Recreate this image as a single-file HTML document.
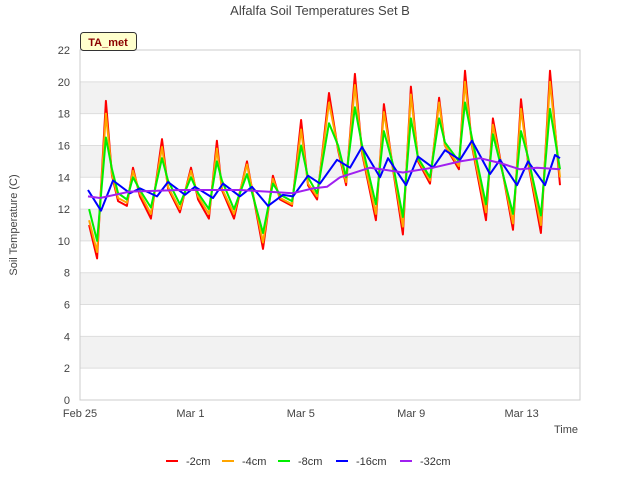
<!DOCTYPE html>
<html><head><meta charset="utf-8"><style>
body{margin:0;background:#fff;}
svg{font-family:"Liberation Sans","DejaVu Sans",sans-serif;}
</style></head><body>
<svg width="640" height="480" xmlns="http://www.w3.org/2000/svg" id="chart">
<rect width="640" height="480" fill="#fff"/>
<text x="320" y="15" text-anchor="middle" font-size="13" fill="#444">Alfalfa Soil Temperatures Set B</text>
<g id="grid"></g>
<g id="series"></g>
<g id="axes"></g>
<g>
<rect x="80.5" y="32.5" width="56" height="18" rx="3" fill="#ffffcc" stroke="#333"/>
<text x="108" y="46" text-anchor="middle" font-size="11" font-weight="bold" fill="#8b0000">TA_met</text>
</g>
<text x="17" y="225" transform="rotate(-90 17 225)" text-anchor="middle" font-size="11" fill="#444">Soil Temperature (C)</text>
<text x="566" y="433" text-anchor="middle" font-size="11" fill="#444">Time</text>
<g id="legend"></g>
</svg>
<script>
const T=[0.33,0.62,0.94,1.16,1.38,1.70,1.92,2.17,2.57,2.97,3.19,3.62,4.02,4.28,4.67,4.96,5.14,5.58,6.05,6.63,6.99,7.25,7.68,8.01,8.26,8.59,9.02,9.35,9.64,9.96,10.22,10.72,11.01,11.34,11.70,11.99,12.25,12.68,13.01,13.22,13.73,13.95,14.20,14.71,14.96,15.69,15.98,16.23,16.70,17.03,17.39];
const red=[11.0,8.9,18.8,14.1,12.5,12.2,14.6,12.8,11.4,16.4,13.3,11.8,14.6,12.6,11.4,16.3,13.2,11.4,15.0,9.5,14.1,12.6,12.2,17.6,13.5,12.6,19.3,15.7,13.5,20.5,15.5,11.3,18.6,14.5,10.4,19.7,15.0,13.6,19.0,16.0,14.5,20.7,16.0,11.3,17.7,10.7,18.9,15.0,10.5,20.7,13.5];
const orange=[11.3,9.3,18.0,14.2,12.7,12.4,14.4,13.0,11.7,15.9,13.4,12.0,14.4,12.8,11.7,15.8,13.3,11.7,14.8,9.9,13.9,12.7,12.3,17.0,13.6,12.8,18.7,15.8,13.7,19.8,15.6,11.7,18.1,14.6,10.9,19.2,15.1,13.8,18.7,16.0,14.7,20.0,16.1,11.8,17.3,11.1,18.3,15.1,11.0,20.0,14.0];
const green=[12.0,10.0,16.5,14.5,13.0,12.6,14.0,13.2,12.1,15.2,13.8,12.3,14.0,13.0,12.0,15.0,13.8,12.0,14.2,10.5,13.6,12.9,12.5,16.0,14.0,13.0,17.4,16.0,14.0,18.4,16.0,12.3,16.9,14.8,11.5,17.7,15.2,14.0,17.7,16.2,15.0,18.7,16.5,12.3,16.7,11.7,16.9,15.3,11.6,18.3,14.5];
const blueX=[88,101,113,130,140,157,168,185,195,213,223,240,252,268,283,293,308,320,337,350,362,380,388,406,418,433,445,460,472,490,500,517,528,545,555,560];
const blueT=blueX.map(x=>(x-80)/27.6);
const blue=[13.2,11.9,13.8,13.0,13.3,12.8,13.7,12.9,13.4,12.7,13.6,12.8,13.4,12.2,12.9,12.8,14.1,13.6,15.1,14.6,15.9,14.0,15.2,13.5,15.3,14.6,15.7,15.1,16.3,14.2,15.1,13.5,15.0,13.5,15.4,15.2];
const purpleX=[88,100,130,180,240,267,293,313,327,340,370,403,433,460,480,500,520,537,560];
const purpleT=purpleX.map(x=>(x-80)/27.6);
const purple=[12.8,12.7,13.1,13.2,13.2,13.1,13.0,13.3,13.4,14.0,14.6,14.3,14.6,15.0,15.2,14.9,14.5,14.6,14.5];
const yTicks=[0,2,4,6,8,10,12,14,16,18,20,22];
const xTickLabels=["Feb 25","Mar 1","Mar 5","Mar 9","Mar 13"];
const xTickDays=[0,4,8,12,16];
const NS="http://www.w3.org/2000/svg";
const X0=80,X1=580,Y0=400,Y1=50;
const xs=d=>X0+d*27.6;
const ys=v=>Y0-(v/22)*(Y0-Y1);
function mk(tag,at,parent){const e=document.createElementNS(NS,tag);for(const k in at)e.setAttribute(k,at[k]);parent.appendChild(e);return e;}
const grid=document.getElementById('grid');
for(let i=0;i<yTicks.length-1;i++){
  if(i%2===1){const r=mk('rect',{x:X0,y:ys(yTicks[i+1]),width:X1-X0,height:ys(yTicks[i])-ys(yTicks[i+1]),fill:'#f2f2f2'},grid);
  
  }
}
yTicks.forEach(v=>{const l=mk('line',{x1:X0,x2:X1,y1:ys(v),y2:ys(v),stroke:'#ddd'},grid);

});
const axes=document.getElementById('axes');
const frame=mk('rect',{x:X0,y:Y1,width:X1-X0,height:Y0-Y1,fill:'none',stroke:'#ccc'},axes);


yTicks.forEach(v=>{const t=mk('text',{x:X0-10,y:ys(v)+4,'text-anchor':'end','font-size':11,fill:'#444'},axes);t.textContent=v;

});
xTickDays.forEach((d,i)=>{const t=mk('text',{x:xs(d),y:Y0+17,'text-anchor':'middle','font-size':11,fill:'#444'},axes);t.textContent=xTickLabels[i];

});
const ser=document.getElementById('series');
function line(tt,vals,color,name){const d=tt.map((t,i)=>(i?'L':'M')+xs(t).toFixed(1)+' '+ys(vals[i]).toFixed(1)).join(' ');
const p=mk('path',{d:d,fill:'none',stroke:color,'stroke-width':2,'stroke-linejoin':'round'},ser);

}
line(T,red,'#ff0000','series-2cm');
line(T,orange,'#ffa500','series-4cm');
line(T,green,'#00ee00','series-8cm');
line(blueT,blue,'#0000ff','series-16cm');
line(purpleT,purple,'#a020f0','series-32cm');
const legNames=['-2cm','-4cm','-8cm','-16cm','-32cm'];
const legColors=['#ff0000','#ffa500','#00ee00','#0000ff','#a020f0'];
const leg=document.getElementById('legend');
const legX=[166,222,278,336,400];
legNames.forEach((n,i)=>{const g=mk('g',{},leg);


mk('line',{x1:legX[i],x2:legX[i]+12,y1:461,y2:461,stroke:legColors[i],'stroke-width':2},g);
const t=mk('text',{x:legX[i]+20,y:465,'font-size':11,fill:'#333'},g);t.textContent=n;});
</script>
</body></html>
